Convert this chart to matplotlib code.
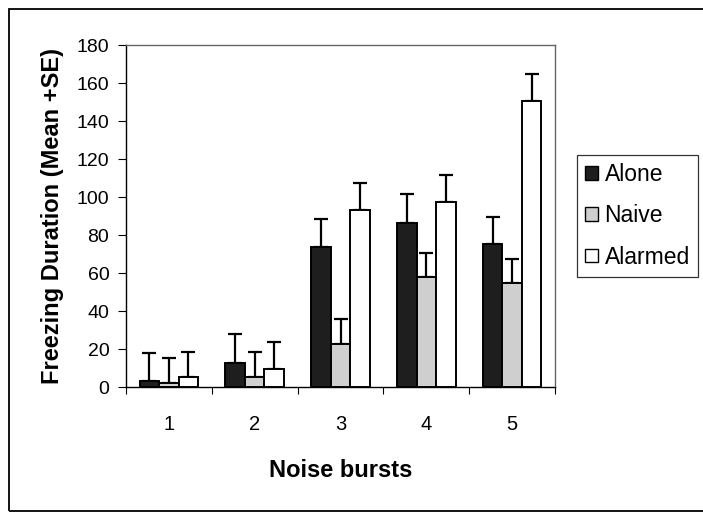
import matplotlib
matplotlib.use("Agg")
import matplotlib.pyplot as plt
from matplotlib.patches import Rectangle, Patch
import numpy as np

plt.rcParams['font.family'] = ['Liberation Sans', 'DejaVu Sans']

categories = ["1", "2", "3", "4", "5"]
series_names = ["Alone", "Naive", "Alarmed"]
alone_mean = [3.3, 12.8, 73.5, 86.5, 75.4]
alone_top = [17.7, 27.7, 88.4, 101.6, 89.3]
naive_mean = [2.3, 5.1, 22.6, 57.7, 54.9]
naive_top = [15.4, 18.6, 35.6, 70.4, 67.2]
alarmed_mean = [5.4, 9.6, 93.5, 97.5, 150.4]
alarmed_top = [18.6, 23.5, 107.7, 111.7, 164.7]
yticks = [0, 20, 40, 60, 80, 100, 120, 140, 160, 180]

colors = ["#1e1e1e", "#cfcfcf", "#ffffff"]

fig = plt.figure(figsize=(7.03, 5.12), dpi=100)
ax = fig.add_axes([126/703, 1-387/512, (555-126)/703, (387-45.3)/512])

x = np.arange(len(categories))
w = 0.228
means = [alone_mean, naive_mean, alarmed_mean]
tops = [alone_top, naive_top, alarmed_top]
for i, (m, t, c, name) in enumerate(zip(means, tops, colors, series_names)):
    m = np.array(m); t = np.array(t)
    err = np.vstack([np.zeros_like(m), t - m])
    ax.errorbar(x + (i-1)*w, m, yerr=err, fmt='none', ecolor='black',
                elinewidth=1.6, capsize=4.8, capthick=1.6, zorder=2)
    ax.bar(x + (i-1)*w, m, width=w, color=c, edgecolor='black',
           linewidth=1.4, zorder=3, label=name)

ax.set_xlim(-0.5, 4.5)
ax.set_ylim(0, 180)
ax.set_yticks(yticks)
ax.set_yticklabels([str(v) for v in yticks], fontsize=14)
ax.set_xticks(x)
ax.set_xticklabels(categories, fontsize=14.5)
ax.set_xticks(np.arange(-0.5, 5.0, 1.0), minor=True)
ax.tick_params(axis='x', which='major', length=0, pad=20)
ax.tick_params(axis='x', which='minor', length=5, width=0.8, direction='out')
ax.tick_params(axis='y', which='major', length=6, width=0.8, direction='out', pad=6)

for s in ['left', 'bottom']:
    ax.spines[s].set_color('black')
    ax.spines[s].set_linewidth(1.0)
for s in ['top', 'right']:
    ax.spines[s].set_color('#666666')
    ax.spines[s].set_linewidth(1.0)

ax.set_xlabel("Noise bursts", fontsize=17, fontweight='bold', labelpad=18)
ax.set_ylabel("Freezing Duration (Mean +SE)", fontsize=17, fontweight='bold', labelpad=9)

handles = [Patch(facecolor=c, edgecolor='black', linewidth=1.0) for c in colors]
leg = fig.legend(handles, series_names, loc='upper left',
                 bbox_to_anchor=(577/703, 1-155/512), fontsize=16.5,
                 frameon=True, fancybox=False, edgecolor='black',
                 handlelength=0.55, handleheight=0.55, handletextpad=0.3,
                 labelspacing=0.8, borderpad=0.35, borderaxespad=0)
leg.get_frame().set_linewidth(0.9)

fig.patches.append(Rectangle((9/703, 1.5/512), 1.0, (510-8)/512,
                             transform=fig.transFigure, fill=False,
                             edgecolor='black', linewidth=1.3))

fig.savefig("out.png", dpi=100)
